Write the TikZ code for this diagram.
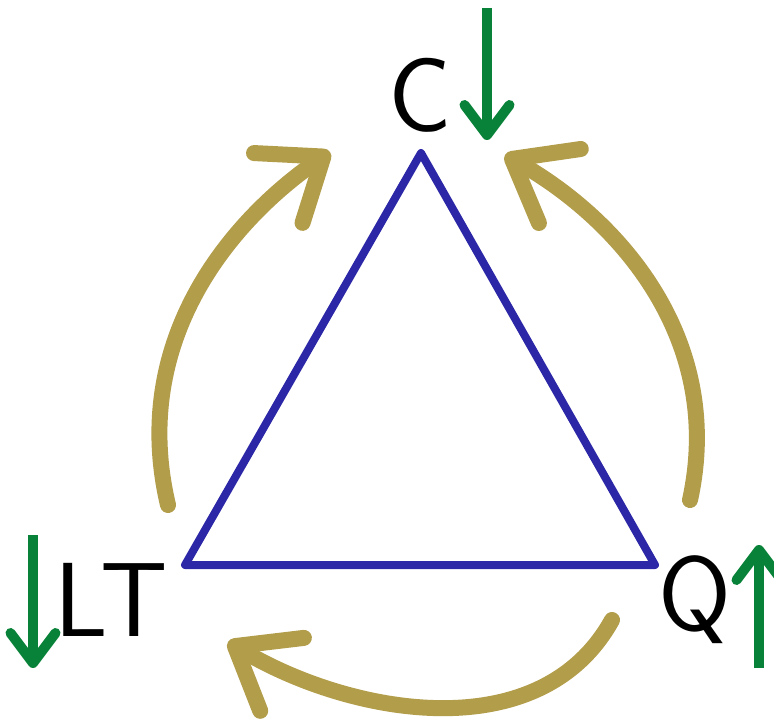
\documentclass[tikz,border=0pt]{standalone}
\usepackage{tikz}
\usepackage{xcolor}
\usetikzlibrary{arrows.meta}
\definecolor{triblue}{RGB}{43,39,166}
\definecolor{trendgreen}{RGB}{8,130,56}
\definecolor{cyclegold}{RGB}{178,157,74}

\begin{document}
\begin{tikzpicture}[
    vertexlabel/.style={font=\sffamily\fontsize{60}{60}\selectfont, inner sep=0pt},
    cyclearrow/.style={cyclegold, line width=0.32cm, line cap=round, line join=round,
        -{Straight Barb[length=1.1cm, width=1.7cm, line cap=round, line join=round]}},
    trendarrow/.style={trendgreen, line width=0.2cm,
        -{Straight Barb[length=0.6cm, width=0.9cm, line cap=round, line join=round]}}
]
    \useasboundingbox (0,0) rectangle (15.48,14.4);

    % corners of the triangle
    \coordinate (top) at (8.42,11.34);
    \coordinate (left) at (3.70,3.10);
    \coordinate (right) at (13.10,3.10);
    \draw[triblue, line width=0.16cm, line join=round] (top) -- (left) -- (right) -- cycle;

    % corner labels
    \node[vertexlabel] (C) at (8.40,12.50) {C};
    \node[vertexlabel] (LT) at (2.22,2.40) {LT};
    \node[vertexlabel] (Q) at (13.90,2.40) {Q};

    % up / down arrows
    \coordinate (cup) at (9.74,14.24);
    \coordinate (cdown) at (9.74,11.60);
    \draw[trendarrow] (cup) -- (cdown);
    \coordinate (ltup) at (0.66,3.70);
    \coordinate (ltdown) at (0.66,1.04);
    \draw[trendarrow] (ltup) -- (ltdown);
    \coordinate (qdown) at (15.18,1.04);
    \coordinate (qup) at (15.18,3.50);
    \draw[trendarrow] (qdown) -- (qup);

    % cycle arrows round the triangle
    \coordinate (ltstart) at (3.36,4.30);
    \coordinate (ctip1) at (6.60,11.36);
    \draw[cyclearrow] (ltstart) .. controls (2.6,7.5) and (4.5,9.9) .. (ctip1);
    \coordinate (qstart) at (13.80,4.40);
    \coordinate (ctip2) at (10.10,11.30);
    \draw[cyclearrow] (qstart) .. controls (14.5,7.6) and (12.4,10.0) .. (ctip2);
    \coordinate (qstart2) at (12.24,2.00);
    \coordinate (lttip) at (4.56,1.56);
    \draw[cyclearrow] (qstart2) .. controls (10.8,-0.6) and (7.0,0.1) .. (lttip);
\end{tikzpicture}
\end{document}
